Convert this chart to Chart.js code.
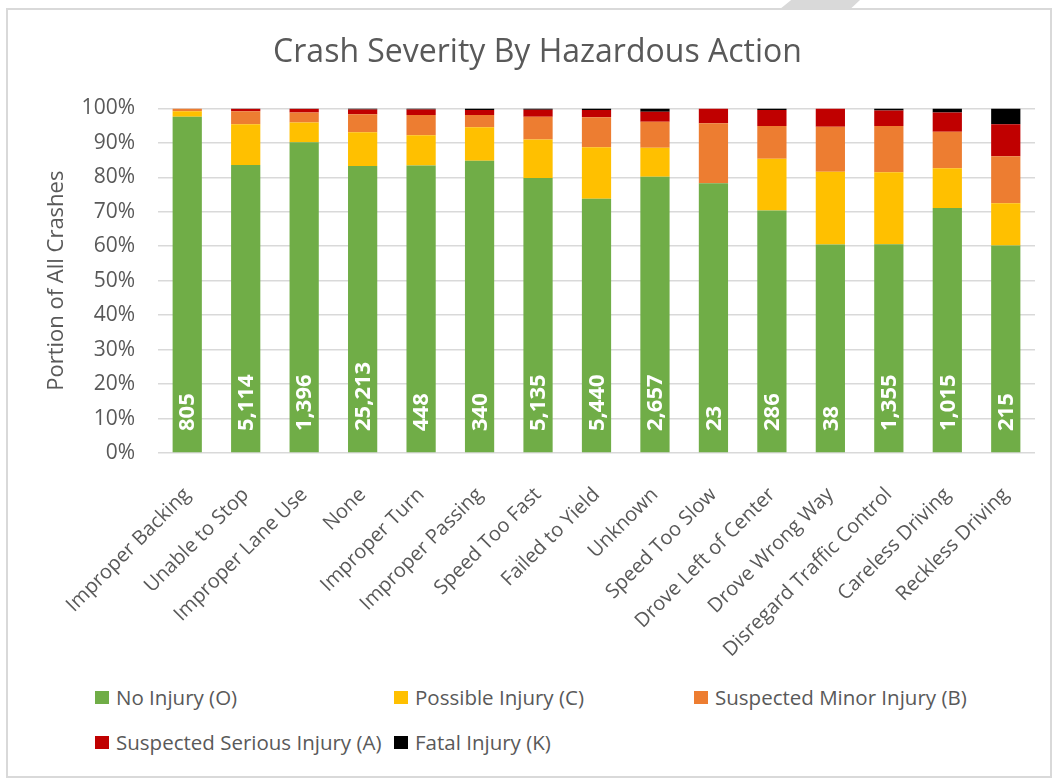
<!DOCTYPE html>
<html lang="en">
<head>
<meta charset="UTF-8">
<title>Crash Severity By Hazardous Action</title>
<script src="https://cdn.jsdelivr.net/npm/chart.js"></script>
<style>
    body { margin: 0; background: #ffffff; }
    .janela { position: relative; width: 1054px; height: 778px; overflow: hidden; font-family: "Open Sans", sans-serif; }
    .moldura { position: absolute; left: 6px; top: 8px; width: 1042px; height: 766px; border: 2px solid #d9d9d9; }
    .aba { position: absolute; left: 780px; top: 0; width: 80px; height: 9px; background: #d9d9d9;
           clip-path: polygon(14% 0, 100% 0, 88% 100%, 0 100%); }
    #grafico { position: absolute; left: 0; top: 0; }
    .legenda { position: absolute; left: 0; top: 0; }
    .item { position: absolute; display: flex; align-items: center; font-size: 20.5px; color: #595959; white-space: nowrap; }
    .item span.cor { display: inline-block; width: 14px; height: 13px; margin-right: 7px; }
</style>
</head>

<body>
    <div class="janela">
        <div class="aba"></div>
        <div class="moldura"></div>
        <canvas id="grafico" width="1054" height="680"></canvas>
        <div class="legenda" id="legenda"></div>
    </div>

<script>
    // categories (hazardous action)
    var categorias = ['Improper Backing', 'Unable to Stop', 'Improper Lane Use', 'None', 'Improper Turn',
        'Improper Passing', 'Speed Too Fast', 'Failed to Yield', 'Unknown', 'Speed Too Slow',
        'Drove Left of Center', 'Drove Wrong Way', 'Disregard Traffic Control', 'Careless Driving', 'Reckless Driving'];

    // share of crashes per severity, in percent
    var semLesao    = [97.6, 83.6, 90.2, 83.3, 83.4, 84.8, 79.8, 73.8, 80.2, 78.3, 70.4, 60.5, 60.6, 71.1, 60.2];
    var possivel    = [1.6, 11.8, 5.7, 9.8, 8.8, 9.7, 11.2, 14.9, 8.4, 0, 15.0, 21.1, 20.9, 11.5, 12.3];
    var leve        = [0.8, 3.8, 2.9, 5.2, 5.9, 3.6, 6.6, 8.7, 7.5, 17.4, 9.5, 13.1, 13.4, 10.6, 13.6];
    var grave       = [0, 0.7, 1.1, 1.4, 1.6, 1.4, 2.0, 2.1, 2.9, 4.3, 4.6, 5.3, 4.5, 5.6, 9.3];
    var fatal       = [0, 0.1, 0.1, 0.3, 0.3, 0.5, 0.4, 0.5, 1.0, 0, 0.5, 0, 0.6, 1.2, 4.6];

    // total crashes per action (label inside each bar)
    var totais = [805, 5114, 1396, 25213, 448, 340, 5135, 5440, 2657, 23, 286, 38, 1355, 1015, 215];

    // y axis ticks
    var ticksY = [0, 10, 20, 30, 40, 50, 60, 70, 80, 90, 100];

    var series = [
        { label: 'No Injury (O)', data: semLesao, cor: '#70ad47' },
        { label: 'Possible Injury (C)', data: possivel, cor: '#ffc000' },
        { label: 'Suspected Minor Injury (B)', data: leve, cor: '#ed7d31' },
        { label: 'Suspected Serious Injury (A)', data: grave, cor: '#c00000' },
        { label: 'Fatal Injury (K)', data: fatal, cor: '#000000' }
    ];

    var cinza = '#595959';
    Chart.defaults.font.family = '"Open Sans", sans-serif';
    Chart.defaults.color = cinza;

    // writes the totals vertically at the bottom of each bar
    var rotulosTotais = {
        id: 'rotulosTotais',
        afterDatasetsDraw: function (chart) {
            var ctx = chart.ctx;
            var meta = chart.getDatasetMeta(0);
            var base = chart.scales.y.getPixelForValue(0);
            ctx.save();
            ctx.fillStyle = '#ffffff';
            ctx.font = 'bold 22px "Open Sans", sans-serif';
            ctx.textAlign = 'left';
            ctx.textBaseline = 'middle';
            for (var i = 0; i < meta.data.length; i++) {
                ctx.save();
                ctx.translate(meta.data[i].x, base - 22);
                ctx.rotate(-Math.PI / 2);
                ctx.fillText(totais[i].toLocaleString('en-US'), 0, 1);
                ctx.restore();
            }
            ctx.restore();
        }
    };

    var grafico = new Chart(document.getElementById('grafico'), {
        type: 'bar',
        data: {
            labels: categorias,
            datasets: series.map(function (s) {
                return {
                    label: s.label,
                    data: s.data,
                    backgroundColor: s.cor,
                    borderWidth: 0,
                    categoryPercentage: 1,
                    barPercentage: 0.5
                };
            })
        },
        options: {
            responsive: false,
            animation: false,
            layout: { padding: { left: 40, right: 19, top: 0, bottom: 0 } },
            plugins: {
                legend: { display: false },
                tooltip: { enabled: false },
                title: {
                    display: true,
                    text: 'Crash Severity By Hazardous Action',
                    color: cinza,
                    font: { size: 32, weight: 'normal' },
                    padding: { top: 34, bottom: 36 }
                }
            },
            scales: {
                x: {
                    stacked: true,
                    grid: { display: false },
                    border: { display: false },
                    ticks: { minRotation: 45, maxRotation: 45, autoSkip: false, padding: 22,
                             font: { size: 20 }, color: cinza },
                    afterFit: function (scale) { scale.height = 227; }
                },
                y: {
                    stacked: true,
                    min: 0,
                    max: 100,
                    afterBuildTicks: function (scale) {
                        scale.ticks = ticksY.map(function (v) { return { value: v }; });
                    },
                    grid: { color: '#d9d9d9', lineWidth: 1.5, drawTicks: false },
                    border: { display: false },
                    ticks: {
                        padding: 23,
                        font: { size: 21 },
                        color: cinza,
                        callback: function (v) { return v + '%'; }
                    },
                    title: {
                        display: true,
                        text: 'Portion of All Crashes',
                        color: cinza,
                        font: { size: 22 },
                        padding: { top: 4, bottom: 0 }
                    },
                    afterFit: function (scale) { scale.width = 118; }
                }
            }
        },
        plugins: [rotulosTotais]
    });

    // legend in three columns, like the original
    var legenda = document.getElementById('legenda');
    var colunas = [95, 394, 694];
    for (var i = 0; i < series.length; i++) {
        var item = document.createElement('div');
        item.className = 'item';
        item.style.left = colunas[i % 3] + 'px';
        item.style.top = (i < 3 ? 683 : 728) + 'px';
        item.innerHTML = '<span class="cor" style="background:' + series[i].cor + '"></span>' + series[i].label;
        legenda.appendChild(item);
    }
</script>
</body>
</html>
